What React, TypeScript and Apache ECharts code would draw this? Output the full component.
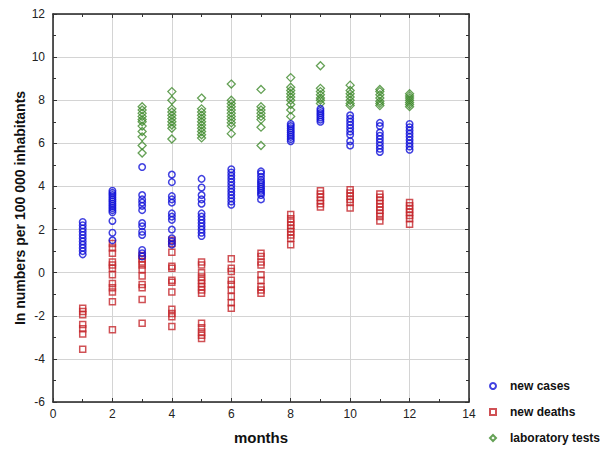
import React, { useEffect, useRef } from "react";
import * as echarts from "echarts";

const months = [1, 2, 3, 4, 5, 6, 7, 8, 9, 10, 11, 12];

const newCases: number[][] = [
  [2.35, 2.2, 2.05, 1.9, 1.75, 1.6, 1.45, 1.3, 1.15, 1.0, 0.85],
  [3.8, 3.7, 3.6, 3.5, 3.4, 3.3, 3.2, 3.1, 3.0, 2.9, 2.8, 2.4, 1.85, 1.5],
  [4.9, 3.6, 3.4, 3.25, 3.1, 2.9, 2.3, 2.15, 1.9, 1.75, 1.05, 0.9, 0.75],
  [4.55, 4.2, 3.55, 3.4, 3.25, 2.75, 2.6, 2.45, 2.0, 1.6, 1.45, 1.3],
  [4.35, 3.95, 3.6, 3.4, 3.2, 2.75, 2.6, 2.45, 2.3, 2.15, 2.0, 1.85, 1.7],
  [4.8, 4.65, 4.5, 4.35, 4.2, 4.05, 3.9, 3.75, 3.6, 3.45, 3.3, 3.15],
  [4.7, 4.6, 4.45, 4.3, 4.2, 4.1, 4.0, 3.9, 3.8, 3.7, 3.6, 3.4],
  [6.9, 6.8, 6.7, 6.6, 6.5, 6.4, 6.3, 6.2, 6.1],
  [7.6, 7.5, 7.4, 7.3, 7.2, 7.1, 7.0],
  [7.3, 7.15, 7.0, 6.85, 6.7, 6.55, 6.4, 6.1, 5.9],
  [6.95, 6.8, 6.5, 6.35, 6.2, 6.05, 5.9, 5.75, 5.6],
  [6.9, 6.75, 6.6, 6.45, 6.3, 6.15, 6.0, 5.85, 5.7],
];

const newDeaths: number[][] = [
  [-1.65, -1.8, -1.95, -2.4, -2.6, -2.85, -3.55],
  [1.35, 1.15, 0.9, 0.5, 0.35, 0.2, -0.1, -0.5, -0.7, -0.9, -1.35, -2.65],
  [0.8, 0.65, 0.5, 0.35, 0.15, -0.15, -0.55, -0.7, -1.25, -2.35],
  [1.5, 1.35, 0.95, 0.3, 0.2, -0.35, -0.45, -0.9, -1.7, -1.9, -2.05, -2.5],
  [0.5, 0.35, 0.0, -0.2, -0.35, -0.5, -0.65, -0.8, -0.95, -2.35, -2.55, -2.75, -2.9, -3.05],
  [0.65, 0.2, 0.05, -0.35, -0.55, -0.8, -1.1, -1.4, -1.65],
  [0.9, 0.75, 0.5, 0.35, -0.1, -0.35, -0.65, -0.8, -0.95],
  [2.7, 2.5, 2.35, 2.2, 2.05, 1.9, 1.75, 1.6, 1.3],
  [3.8, 3.65, 3.5, 3.35, 3.2, 3.05],
  [3.85, 3.7, 3.55, 3.4, 3.25, 3.0],
  [3.65, 3.5, 3.35, 3.2, 3.05, 2.9, 2.75, 2.6, 2.4],
  [3.25, 3.1, 2.95, 2.8, 2.65, 2.5, 2.25],
];

const labTests: number[][] = [
  [],
  [],
  [7.7, 7.55, 7.4, 7.25, 7.1, 7.0, 6.8, 6.55, 6.3, 5.9, 5.55],
  [8.4, 8.0, 7.6, 7.45, 7.3, 7.15, 7.0, 6.85, 6.7, 6.2],
  [8.1, 7.6, 7.45, 7.3, 7.15, 7.0, 6.85, 6.7, 6.55, 6.4, 6.25],
  [8.75, 8.0, 7.85, 7.7, 7.55, 7.4, 7.25, 7.1, 6.95, 6.8, 6.45],
  [8.5, 7.7, 7.55, 7.4, 7.25, 7.1, 6.75, 5.9],
  [9.05, 8.6, 8.45, 8.3, 8.15, 8.0, 7.8, 7.55, 7.25],
  [9.6, 8.55, 8.4, 8.25, 8.1, 8.0, 7.85],
  [8.7, 8.45, 8.3, 8.15, 8.0, 7.85, 7.75],
  [8.5, 8.4, 8.25, 8.1, 7.95, 7.85, 7.75],
  [8.3, 8.2, 8.1, 8.0, 7.9, 7.8, 7.7],
];

const seriesNames = ["new cases", "new deaths", "laboratory tests"];
const xTicks = { min: 0, max: 14, interval: 2 };
const yTicks = { min: -6, max: 12, interval: 2 };

function toPoints(byMonth: number[][]): number[][] {
  const out: number[][] = [];
  byMonth.forEach((vals, i) => {
    vals.forEach((v) => out.push([months[i], v]));
  });
  return out;
}

const FONT = "Liberation Sans, Arial, sans-serif";

export default function App() {
  const ref = useRef<HTMLDivElement>(null);
  useEffect(() => {
    if (!ref.current) return;
    const chart = echarts.init(ref.current, undefined, { renderer: "svg" });
    const tickStyle = { color: "#333", width: 1 };
    const baseX = {
      type: "value" as const,
      min: xTicks.min,
      max: xTicks.max,
      interval: xTicks.interval,
      axisLine: { show: true, onZero: false, lineStyle: { color: "#222", width: 1.5 } },
      axisTick: { show: true, inside: true, length: 4, lineStyle: tickStyle },
      minorTick: { show: true, splitNumber: 2, length: 3, lineStyle: tickStyle },
    };
    const baseY = {
      type: "value" as const,
      min: yTicks.min,
      max: yTicks.max,
      interval: yTicks.interval,
      axisLine: { show: true, onZero: false, lineStyle: { color: "#222", width: 1.5 } },
      axisTick: { show: true, inside: true, length: 4, lineStyle: tickStyle },
      minorTick: { show: true, splitNumber: 2, length: 3, lineStyle: tickStyle },
    };
    chart.setOption({
      animation: false,
      backgroundColor: "#fff",
      textStyle: { fontFamily: FONT },
      grid: { left: 53, right: 131, top: 14, bottom: 49 },
      xAxis: [
        {
          ...baseX,
          position: "bottom",
          name: "months",
          nameLocation: "middle",
          nameGap: 28,
          nameTextStyle: { fontSize: 15, fontWeight: "bold", color: "#111", fontFamily: FONT },
          axisLabel: { fontSize: 12, color: "#222", margin: 6, fontFamily: FONT },
          splitLine: { show: true, lineStyle: { color: "#d4d4d4", width: 1 } },
        },
        {
          ...baseX,
          position: "top",
          axisLabel: { show: false },
          splitLine: { show: false },
        },
      ],
      yAxis: [
        {
          ...baseY,
          position: "left",
          name: "In numbers per 100 000 inhabitants",
          nameLocation: "middle",
          nameGap: 26,
          nameMoveOverlap: false,
          nameTextStyle: { fontSize: 14, fontWeight: "bold", color: "#111", fontFamily: FONT },
          axisLabel: { fontSize: 12, color: "#222", margin: 8, fontFamily: FONT },
          splitLine: { show: true, lineStyle: { color: "#d4d4d4", width: 1 } },
        },
        {
          ...baseY,
          position: "right",
          axisLabel: { show: false },
          splitLine: { show: false },
        },
      ],
      legend: {
        orient: "vertical",
        left: 484,
        top: 375,
        itemGap: 14,
        itemWidth: 6,
        itemHeight: 6,
        textStyle: {
          fontSize: 12,
          fontWeight: "bold",
          color: "#111",
          fontFamily: FONT,
          padding: [0, 0, 0, 9],
        },
        data: seriesNames,
      },
      series: [
        {
          name: seriesNames[0],
          type: "scatter",
          symbol: "circle",
          symbolSize: 6.5,
          itemStyle: { color: "rgba(0,0,0,0)", borderColor: "#1010d8", borderWidth: 1.5 },
          data: toPoints(newCases),
          z: 3,
        },
        {
          name: seriesNames[1],
          type: "scatter",
          symbol: "rect",
          symbolSize: 6,
          itemStyle: { color: "rgba(0,0,0,0)", borderColor: "#c4262b", borderWidth: 1.5 },
          data: toPoints(newDeaths),
          z: 2,
        },
        {
          name: seriesNames[2],
          type: "scatter",
          symbol: "diamond",
          symbolSize: 8,
          itemStyle: { color: "rgba(0,0,0,0)", borderColor: "#3f8a2c", borderWidth: 1.3 },
          data: toPoints(labTests),
          z: 2,
        },
      ],
    });
    return () => chart.dispose();
  }, []);
  return (
    <div
      ref={ref}
      style={{ position: "fixed", left: 0, top: 0, width: 600, height: 451, background: "#fff" }}
    />
  );
}
